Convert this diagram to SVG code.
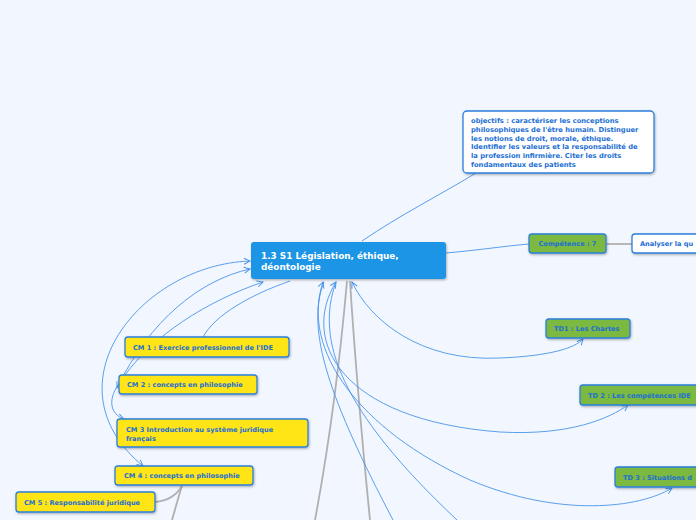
<svg xmlns="http://www.w3.org/2000/svg" width="696" height="520" viewBox="0 0 696 520">
<defs>
<style>
.bg{fill:#f2f6fe}
.n{stroke:#2a7fdc;stroke-width:1.3}
.y{fill:#ffe414}
.g{fill:#7cb93f}
.w{fill:#ffffff}
.t{font-family:"DejaVu Sans",Verdana,sans-serif;font-weight:bold;font-size:6.6px;fill:#1d6fd3}
.to{font-size:6.75px}
.tc{font-family:"DejaVu Sans",Verdana,sans-serif;font-weight:bold;font-size:8.9px;fill:#ffffff}
.rel{fill:none;stroke:#4a94ea;stroke-width:0.9}
.rela{fill:none;stroke:#4a94ea;stroke-width:0.9;marker-start:url(#ah);marker-end:url(#ah)}
.tree{fill:none;stroke:#b0b0b0;stroke-width:1.8}
</style>
<marker id="ah" viewBox="0 0 8 8" refX="7" refY="4" markerWidth="8" markerHeight="8" markerUnits="userSpaceOnUse" orient="auto-start-reverse">
<path d="M1,1 L7,4 L1,7" fill="none" stroke="#4a94ea" stroke-width="1"/>
</marker>
<filter id="sh" x="-10%" y="-20%" width="120%" height="150%">
<feDropShadow dx="0.8" dy="1.2" stdDeviation="0.8" flood-color="#000" flood-opacity="0.3"/>
</filter>
</defs>
<rect class="bg" x="0" y="0" width="696" height="520"/>

<g id="connectors">
<path class="tree" d="M347,281 C340,360 330,440 315,520"/>
<path class="tree" d="M350,281 C355,360 362,440 370,520"/>
<path class="tree" d="M182,486 C178,498 175,510 172,520"/>
<path class="tree" d="M155,502 C168,501 176,496 182,486"/>
<path class="tree" d="M606,244 L632,244"/>
<path class="rel" d="M362,241 C400,215 440,195 476,173"/>
<path class="rel" d="M446,253 C480,250 505,246 529,244"/>
<path class="rela" d="M352,282 C370,320 420,362 500,358 C550,356 575,348 583,339"/>
<path class="rela" d="M336,282 C300,340 340,420 500,432 C570,436 610,418 628,405"/>
<path class="rela" d="M323,282 C300,350 360,430 470,480 C560,518 640,508 672,488"/>
<path class="rel" d="M324,282 C305,330 330,400 393,520"/>
<path class="rel" d="M336,282 C315,340 340,410 457,520"/>
<path class="rela" d="M250,261 C140,265 45,385 143,466"/>
<path class="rela" d="M250,269 C200,280 150,320 117,388"/>
<path class="rela" d="M263,282 C210,300 150,335 118,385 C108,400 110,414 124,419"/>
<path class="rel" d="M290,281 C250,295 215,315 203,337"/>
</g>

<g id="central">
<rect x="251" y="242" width="195" height="37" rx="3" fill="#1a95e6" filter="url(#sh)"/>
<text class="tc" x="261" y="259">1.3 S1 Législation, éthique,</text>
<text class="tc" x="261" y="270">déontologie</text>
</g>

<g id="objectifs">
<rect class="n w" x="463" y="111" width="191" height="62" rx="4" filter="url(#sh)"/>
<text class="t to" x="471" y="123">objectifs : caractériser les conceptions</text>
<text class="t to" x="471" y="131.8">philosophiques de l'être humain. Distinguer</text>
<text class="t to" x="471" y="140.6">les notions de droit, morale, éthique.</text>
<text class="t to" x="471" y="149.4">Identifier les valeurs et la responsabilité de</text>
<text class="t to" x="471" y="158.2">la profession infirmière. Citer les droits</text>
<text class="t to" x="471" y="167">fondamentaux des patients</text>
</g>

<g id="competence">
<rect class="n g" x="529" y="234" width="77" height="19" rx="3" filter="url(#sh)"/>
<text class="t" x="567.5" y="246" text-anchor="middle">Compétence : 7</text>
</g>

<g id="analyser">
<rect class="n w" x="632" y="234" width="90" height="19" rx="3" filter="url(#sh)"/>
<text class="t" x="640" y="246">Analyser la qu</text>
</g>

<g id="td1">
<rect class="n g" x="546" y="319" width="84" height="19" rx="3" filter="url(#sh)"/>
<text class="t" x="554" y="331">TD1 : Les Chartes</text>
</g>

<g id="td2">
<rect class="n g" x="580" y="385" width="130" height="20" rx="3" filter="url(#sh)"/>
<text class="t" x="588" y="398">TD 2 : Les compétences IDE</text>
</g>

<g id="td3">
<rect class="n g" x="615" y="467" width="100" height="20" rx="3" filter="url(#sh)"/>
<text class="t" x="623" y="480">TD 3 : Situations d</text>
</g>

<g id="cm1">
<rect class="n y" x="125" y="337" width="164" height="20" rx="3" filter="url(#sh)"/>
<text class="t" x="133" y="350">CM 1 : Exercice professionnel de l'IDE</text>
</g>

<g id="cm2">
<rect class="n y" x="119" y="375" width="138" height="19" rx="3" filter="url(#sh)"/>
<text class="t" x="127" y="387">CM 2 : concepts en philosophie</text>
</g>

<g id="cm3">
<rect class="n y" x="117" y="419" width="191" height="28" rx="3" filter="url(#sh)"/>
<text class="t" x="126" y="432">CM 3 Introduction au système juridique</text>
<text class="t" x="126" y="440.5">français</text>
</g>

<g id="cm4">
<rect class="n y" x="115" y="466" width="138" height="19" rx="3" filter="url(#sh)"/>
<text class="t" x="124" y="478">CM 4 : concepts en philosophie</text>
</g>

<g id="cm5">
<rect class="n y" x="16" y="492" width="139" height="20" rx="3" filter="url(#sh)"/>
<text class="t" x="24" y="505">CM 5 : Responsabilité juridique</text>
</g>
</svg>
